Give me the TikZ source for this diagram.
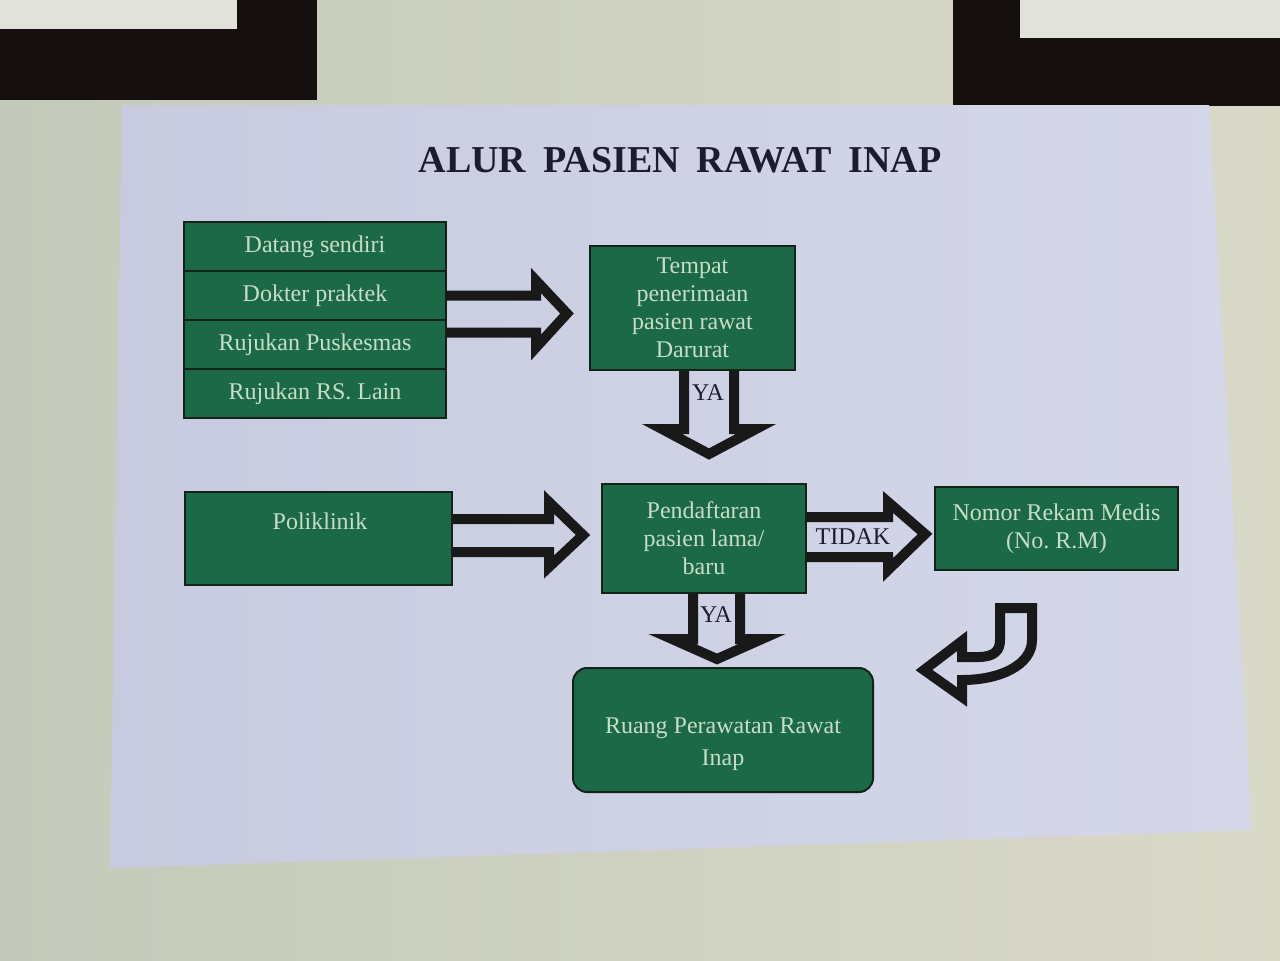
\documentclass[tikz,border=0pt]{standalone}
\usepackage{fontspec}
\setmainfont{Liberation Serif}
\usetikzlibrary{positioning,calc}
\frenchspacing

\definecolor{wallgrey}{HTML}{C4CABB}
\definecolor{walllight}{HTML}{D9D9C8}
\definecolor{boardleft}{HTML}{C8CBDF}
\definecolor{boardright}{HTML}{D5D7E9}
\definecolor{framedark}{HTML}{150F10}
\definecolor{glasswhite}{HTML}{E1E3DA}
\definecolor{boxgreen}{HTML}{1B6947}
\definecolor{boxedge}{HTML}{13231A}
\definecolor{boxtext}{HTML}{C8DDC8}
\definecolor{inkdark}{HTML}{1C1C30}

\tikzset{
  gbox/.style={draw=boxedge, line width=1pt, fill=boxgreen, text=boxtext,
    align=center, font=\fontsize{12}{14}\selectfont, inner sep=0pt},
  stackbox/.style={gbox, minimum width=131pt, minimum height=24.5pt, outer sep=0pt},
  hollow/.style={draw=black!90, line width=5pt, line join=miter},
  lbl/.style={text=inkdark, font=\fontsize{12}{14}\selectfont, inner sep=0pt},
}

\begin{document}
\begin{tikzpicture}[x=0.5pt, y=-0.5pt]
  \useasboundingbox (0,0) rectangle (1280,960);

  % wall, frames and board
  \shade[left color=wallgrey, right color=walllight] (0,0) rectangle (1280,960);
  \fill[framedark] (0,0) rectangle (317,100);
  \fill[glasswhite] (0,0) rectangle (237,29);
  \fill[framedark] (953,0) rectangle (1280,106);
  \fill[glasswhite] (1020,0) rectangle (1280,38);
  \shade[left color=boardleft, right color=boardright]
    (122,105) -- (1209,105) -- (1252,830) -- (110,868) -- cycle;

  \node[text=inkdark, font=\fontsize{19}{22}\selectfont\bfseries] (title) at (680,160)
    {ALUR\hspace{0.45em}PASIEN\hspace{0.45em}RAWAT\hspace{0.45em}INAP};

  % asal pasien
  \node[stackbox] (datang) at (315,246.5) {Datang sendiri};
  \node[stackbox, below=0pt of datang] (dokter) {Dokter praktek};
  \node[stackbox, below=0pt of dokter] (puskesmas) {Rujukan Puskesmas};
  \node[stackbox, below=0pt of puskesmas] (rslain) {Rujukan RS. Lain};

  \node[gbox, minimum width=102.5pt, minimum height=62pt] (tempat) at (692.5,308)
    {Tempat\\penerimaan\\pasien rawat\\Darurat};

  \node[gbox, minimum width=133.5pt, minimum height=46.5pt] (poli) at (318.5,538.5) {};
  \node[lbl, text=boxtext] (politxt) at (320,521) {Poliklinik};

  \node[gbox, minimum width=102pt, minimum height=54.5pt] (daftar) at (704,538.5)
    {Pendaftaran\\pasien lama/\\baru};
  \node[gbox, minimum width=121.5pt, minimum height=41.5pt] (nomor) at (1056.5,528.5)
    {Nomor Rekam Medis\\(No. R.M)};

  \node[gbox, rounded corners=7pt, minimum width=150pt, minimum height=62pt] (ruang) at (723,730) {};
  \node[lbl, text=boxtext, align=center, font=\fontsize{12}{16}\selectfont] (ruangtxt) at (723,744)
    {Ruang Perawatan Rawat\\Inap};

  % panah
  \draw[hollow] (dokter.east) -- ++(90,0) -- ++(0,-15) -- ++(31,33) -- ++(-31,34)
    -- ++(0,-15) -- ++(-90,0);
  \draw[hollow] ($(poli.east)+(0,-19.5)$) -- ++(96,0) -- ++(0,-17) -- ++(34,33)
    -- ++(-34,32) -- ++(0,-15) -- ++(-96,0);
  \draw[hollow] ($(daftar.east)+(0,-21.5)$) -- ++(81,0) -- ++(0,-15) -- ++(37,32)
    -- ++(-37,36) -- ++(0,-13) -- ++(-81,0);
  \draw[hollow] ($(tempat.south)+(-8.5,0)$) -- ++(0,58) -- ++(-22,0) -- ++(47,25)
    -- ++(47,-25) -- ++(-22,0) -- ++(0,-58);
  \draw[hollow] ($(daftar.south)+(-11,0)$) -- ++(0,45) -- ++(-21,0) -- ++(45,20)
    -- ++(45,-20) -- ++(-22,0) -- ++(0,-45);
  \draw[hollow] (962,657) -- (978,657) .. controls (995,657) and (1000,650) .. (1000,640)
    -- (1000,608) -- (1032,608) -- (1032,640) .. controls (1032,665) and (1000,680) .. (962,680)
    -- (962,697) -- (924,670) -- (962,641) -- cycle;

  \node[lbl] (ya1) at (708,393) {YA};
  \node[lbl] (ya2) at (716,615) {YA};
  \node[lbl] (tidak) at (853,537) {TIDAK};
\end{tikzpicture}
\end{document}
